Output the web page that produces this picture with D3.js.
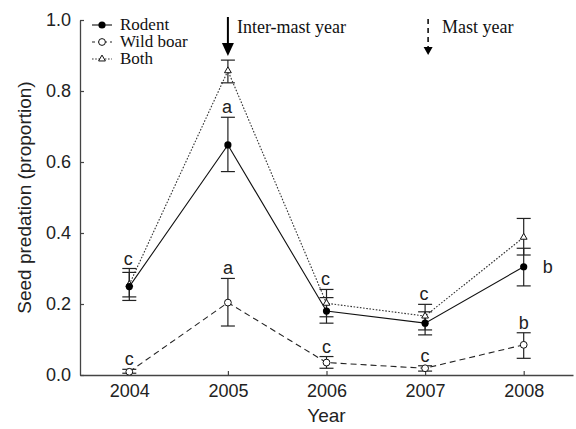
<!DOCTYPE html>
<html>
<head>
<meta charset="utf-8">
<script src="https://cdn.jsdelivr.net/npm/d3@7"></script>
<style>
  html, body { margin: 0; padding: 0; background: #fff; }
  svg { display: block; }
</style>
</head>
<body>
<svg id="chart" width="576" height="429"></svg>
<script>
// Seed predation by rodents, wild boar and both, 2004–2008 (mean with SE bars)
const years = [2004, 2005, 2006, 2007, 2008];
const yTicks = [0.0, 0.2, 0.4, 0.6, 0.8, 1.0];

const rodent      = [0.249, 0.648, 0.180, 0.146, 0.305];
const rodentLow   = [0.220, 0.573, 0.146, 0.113, 0.251];
const rodentHigh  = [0.289, 0.726, 0.218, 0.178, 0.357];

const boar        = [0.009, 0.204, 0.035, 0.019, 0.085];
const boarLow     = [0.005, 0.138, 0.019, 0.011, 0.047];
const boarHigh    = [0.016, 0.272, 0.052, 0.026, 0.119];

const both        = [0.255, 0.857, 0.202, 0.166, 0.388];
const bothLow     = [0.210, 0.823, 0.164, 0.127, 0.338];
const bothHigh    = [0.300, 0.887, 0.241, 0.199, 0.441];

// significance letters (Tukey groups)
const rodentLetters = ["c", "a", "c", "c", "b"];
const boarLetters   = ["c", "a", "c", "c", "b"];

const seriesNames = ["Rodent", "Wild boar", "Both"];

const svg = d3.select("#chart");
const x = d3.scaleLinear().domain([2003.5, 2008.5]).range([80, 573]);
const y = d3.scaleLinear().domain([0, 1]).range([375, 20]);

const sans = "Liberation Sans, Arial, Helvetica, sans-serif";
const serif = "Liberation Serif, Times New Roman, serif";

// axes
const xAxis = svg.append("g").attr("transform", `translate(0,${y(0)})`)
  .call(d3.axisBottom(x).tickValues(years).tickFormat(d3.format("d")).tickSizeInner(-4).tickSizeOuter(0).tickPadding(9));
const yAxis = svg.append("g").attr("transform", `translate(${x.range()[0]},0)`)
  .call(d3.axisLeft(y).tickValues(yTicks).tickFormat(d3.format(".1f")).tickSizeInner(-4).tickSizeOuter(0).tickPadding(9));
[xAxis, yAxis].forEach(g => {
  g.select(".domain").attr("stroke", "#444").attr("stroke-width", 1.3);
  g.selectAll(".tick line").attr("stroke", "#444").attr("stroke-width", 1.2);
  g.selectAll(".tick text").attr("font-family", sans).attr("font-size", 18).attr("fill", "#222");
});

svg.append("text").attr("x", x(2006)).attr("y", 422).attr("text-anchor", "middle")
  .attr("font-family", sans).attr("font-size", 19).attr("fill", "#222").text("Year");
svg.append("text").attr("transform", `translate(31,${y(0.5)}) rotate(-90)`).attr("text-anchor", "middle")
  .attr("font-family", sans).attr("font-size", 19).attr("fill", "#222").text("Seed predation (proportion)");

// lines
const line = d3.line().x((d, i) => x(years[i])).y(d => y(d));
const styles = [
  { data: rodent, lo: rodentLow, hi: rodentHigh, dash: null, color: "#111", width: 1.1 },
  { data: boar, lo: boarLow, hi: boarHigh, dash: "6,4", color: "#222", width: 1.1 },
  { data: both, lo: bothLow, hi: bothHigh, dash: "1.6,1.6", color: "#333", width: 1.1 }
];
[2, 1, 0].forEach(k => {
  const s = styles[k];
  svg.append("path").attr("d", line(s.data)).attr("fill", "none")
    .attr("stroke", s.color).attr("stroke-width", s.width)
    .attr("stroke-dasharray", s.dash);
});

// error bars
const capHalf = 7;
styles.forEach(s => {
  const g = svg.append("g").attr("stroke", "#222").attr("stroke-width", 1.2);
  years.forEach((yr, i) => {
    const cx = x(yr);
    g.append("line").attr("x1", cx).attr("x2", cx).attr("y1", y(s.lo[i])).attr("y2", y(s.hi[i]));
    [s.lo[i], s.hi[i]].forEach(v => {
      g.append("line").attr("x1", cx - capHalf).attr("x2", cx + capHalf).attr("y1", y(v)).attr("y2", y(v));
    });
  });
});

// markers
function marker(g, kind, cx, cy) {
  if (kind === 0) {
    g.append("circle").attr("cx", cx).attr("cy", cy).attr("r", 3.6).attr("fill", "#000");
  } else if (kind === 1) {
    g.append("circle").attr("cx", cx).attr("cy", cy).attr("r", 3.4).attr("fill", "#fff")
      .attr("stroke", "#111").attr("stroke-width", 1);
  } else {
    g.append("path").attr("transform", `translate(${cx},${cy})`)
      .attr("d", d3.symbol().type(d3.symbolTriangle).size(20)())
      .attr("fill", "#fff").attr("stroke", "#111").attr("stroke-width", 1);
  }
}
const mk = svg.append("g");
[2, 1, 0].forEach(k => {
  styles[k].data.forEach((v, i) => marker(mk, k, x(years[i]), y(v)));
});

// letters
const lt = svg.append("g").attr("font-family", sans).attr("font-size", 18).attr("fill", "#222");
years.forEach((yr, i) => {
  if (i === years.length - 1) {
    lt.append("text").attr("x", x(yr) + 19).attr("y", y(rodent[i]) + 6).text(rodentLetters[i]);
  } else {
    const top = i === 1 ? rodentHigh[i] : Math.max(rodentHigh[i], bothHigh[i]);
    lt.append("text").attr("x", x(yr) - 1).attr("y", y(top) - 4).attr("text-anchor", "middle").text(rodentLetters[i]);
  }
  lt.append("text").attr("x", x(yr)).attr("y", y(boarHigh[i]) - 4).attr("text-anchor", "middle").text(boarLetters[i]);
});

// legend
const lg = svg.append("g").attr("font-family", serif).attr("font-size", 17).attr("fill", "#111");
seriesNames.forEach((name, k) => {
  const ly = 25 + k * 17;
  const s = styles[k];
  lg.append("line").attr("x1", 92).attr("x2", 112).attr("y1", ly).attr("y2", ly)
    .attr("stroke", s.color).attr("stroke-width", 1.1).attr("stroke-dasharray", k === 1 ? "3,3" : s.dash);
  marker(lg, k, 102, ly);
  lg.append("text").attr("x", 120).attr("y", ly + 5).text(name);
});

// mast year annotations
const ann = svg.append("g").attr("font-family", serif).attr("font-size", 18).attr("fill", "#111");
const ax1 = x(2005);
ann.append("line").attr("x1", ax1).attr("x2", ax1).attr("y1", 17).attr("y2", 48)
  .attr("stroke", "#000").attr("stroke-width", 2);
ann.append("path").attr("d", `M${ax1 - 6},43 L${ax1 + 6},43 L${ax1},56 Z`).attr("fill", "#000");
ann.append("text").attr("x", ax1 + 9).attr("y", 33).text("Inter-mast year");

const ax2 = x(2007) + 3;
ann.append("line").attr("x1", ax2).attr("x2", ax2).attr("y1", 19).attr("y2", 50)
  .attr("stroke", "#000").attr("stroke-width", 1.5).attr("stroke-dasharray", "5,4");
ann.append("path").attr("d", `M${ax2 - 4.5},47 L${ax2 + 4.5},47 L${ax2},55 Z`).attr("fill", "#000");
ann.append("text").attr("x", ax2 + 14).attr("y", 33).text("Mast year");
</script>
</body>
</html>
